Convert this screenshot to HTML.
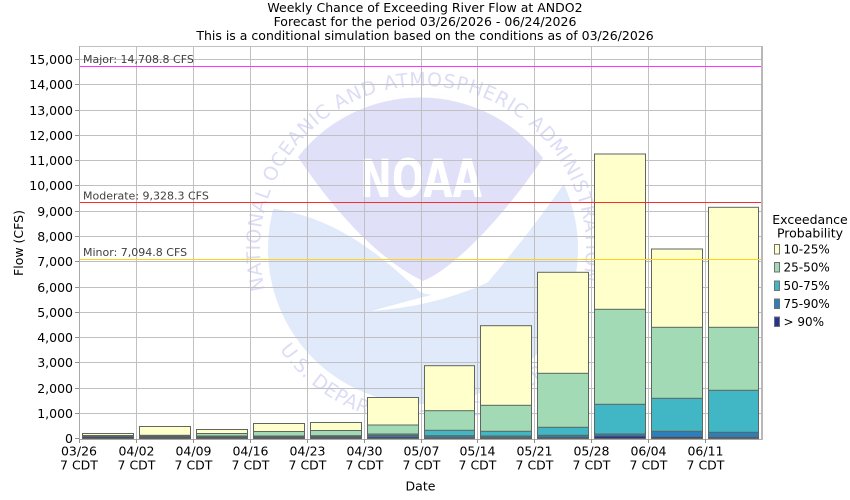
<!DOCTYPE html>
<html><head><meta charset="utf-8"><style>
html,body{margin:0;padding:0;background:#fff;}
svg{display:block;font-family:"DejaVu Sans","Liberation Sans",sans-serif;}
</style></head><body>
<svg width="850" height="500" viewBox="0 0 850 500" xmlns="http://www.w3.org/2000/svg">
<defs>
<clipPath id="plot"><rect x="79" y="47" width="683" height="392"/></clipPath>
<clipPath id="circ"><circle cx="423" cy="249" r="155"/></clipPath>
<path id="ringTop" d="M 265.2,289.8 A 163 163 0 1 1 581.8,285.7"/>
<path id="ringBot" d="M 279.7,349.4 A 175 175 0 0 0 566.3,349.4"/>
</defs>
<rect width="850" height="500" fill="#fff"/>
<!-- title -->
<g font-size="12.5" fill="#000" text-anchor="middle">
<text x="425" y="11.8">Weekly Chance of Exceeding River Flow at ANDO2</text>
<text x="425" y="25.8">Forecast for the period 03/26/2026 - 06/24/2026</text>
<text x="425" y="39.8">This is a conditional simulation based on the conditions as of 03/26/2026</text>
</g>
<!-- watermark -->
<g clip-path="url(#plot)">
<circle cx="423" cy="249" r="155" fill="#e1eafb"/>
<path clip-path="url(#circ)" d="M 250,207 C 320,208 372,246 420,292 C 440,300 470,292 488,282 C 515,250 545,212 570,175 L 600,140 L 600,60 L 250,60 Z" fill="#fff"/>
<path d="M 298,157 C 330,205 375,258 423,281 C 455,268 505,215 543,158 A 155 155 0 0 0 298,157 Z" fill="#e0e0f9"/>
<path d="M 488,282 C 450,300 410,308 372,311 C 410,300 440,293 470,285 Z" fill="#fff"/>
<text x="360" y="197" font-size="53" font-weight="bold" fill="#fff" textLength="122" lengthAdjust="spacingAndGlyphs">NOAA</text>
<text font-size="19" fill="#dcdcf6"><textPath href="#ringTop" textLength="585" lengthAdjust="spacing">NATIONAL OCEANIC AND ATMOSPHERIC ADMINISTRATION</textPath></text>
<text font-size="19" fill="#dcdcf6"><textPath href="#ringBot" textLength="330" lengthAdjust="spacing">U.S. DEPARTMENT OF COMMERCE</textPath></text>
</g>
<!-- grid -->
<g stroke="#c0c0c0" stroke-width="1" fill="none">
<line x1="79" y1="413.5" x2="762" y2="413.5"/>
<line x1="79" y1="388.5" x2="762" y2="388.5"/>
<line x1="79" y1="362.5" x2="762" y2="362.5"/>
<line x1="79" y1="337.5" x2="762" y2="337.5"/>
<line x1="79" y1="312.5" x2="762" y2="312.5"/>
<line x1="79" y1="287.5" x2="762" y2="287.5"/>
<line x1="79" y1="261.5" x2="762" y2="261.5"/>
<line x1="79" y1="236.5" x2="762" y2="236.5"/>
<line x1="79" y1="211.5" x2="762" y2="211.5"/>
<line x1="79" y1="185.5" x2="762" y2="185.5"/>
<line x1="79" y1="160.5" x2="762" y2="160.5"/>
<line x1="79" y1="135.5" x2="762" y2="135.5"/>
<line x1="79" y1="110.5" x2="762" y2="110.5"/>
<line x1="79" y1="84.5" x2="762" y2="84.5"/>
<line x1="79" y1="59.5" x2="762" y2="59.5"/>
<line x1="79" y1="46.5" x2="762" y2="46.5"/>
<line x1="136.5" y1="47" x2="136.5" y2="439"/>
<line x1="193.5" y1="47" x2="193.5" y2="439"/>
<line x1="250.5" y1="47" x2="250.5" y2="439"/>
<line x1="307.5" y1="47" x2="307.5" y2="439"/>
<line x1="364.5" y1="47" x2="364.5" y2="439"/>
<line x1="421.5" y1="47" x2="421.5" y2="439"/>
<line x1="477.5" y1="47" x2="477.5" y2="439"/>
<line x1="534.5" y1="47" x2="534.5" y2="439"/>
<line x1="591.5" y1="47" x2="591.5" y2="439"/>
<line x1="648.5" y1="47" x2="648.5" y2="439"/>
<line x1="705.5" y1="47" x2="705.5" y2="439"/>
</g>
<!-- bars -->
<g stroke="#5f655f" stroke-width="1">
<!-- each bar: yellow, green, teal, blue, navy -->
<rect x="82.5" y="433.5" width="51" height="5" fill="#ffffcc"/>
<rect x="82.5" y="435.5" width="51" height="3" fill="#a1dab4"/>
<rect x="82.5" y="436" width="51" height="2.5" fill="#41b6c4"/>
<rect x="82.5" y="436.3" width="51" height="2.2" fill="#2c7fb8"/>
<rect x="82.5" y="437" width="51" height="1.5" fill="#253494"/>

<rect x="139.5" y="426.5" width="51" height="12" fill="#ffffcc"/>
<rect x="139.5" y="435.3" width="51" height="3.2" fill="#a1dab4"/>
<rect x="139.5" y="436" width="51" height="2.5" fill="#41b6c4"/>
<rect x="139.5" y="436.5" width="51" height="2" fill="#2c7fb8"/>
<rect x="139.5" y="437.3" width="51" height="1.2" fill="#253494"/>

<rect x="196.5" y="429.5" width="51" height="9" fill="#ffffcc"/>
<rect x="196.5" y="433.5" width="51" height="5" fill="#a1dab4"/>
<rect x="196.5" y="436" width="51" height="2.5" fill="#41b6c4"/>
<rect x="196.5" y="436.5" width="51" height="2" fill="#2c7fb8"/>
<rect x="196.5" y="437.3" width="51" height="1.2" fill="#253494"/>

<rect x="253.5" y="423.5" width="51" height="15" fill="#ffffcc"/>
<rect x="253.5" y="431.5" width="51" height="7" fill="#a1dab4"/>
<rect x="253.5" y="436" width="51" height="2.5" fill="#41b6c4"/>
<rect x="253.5" y="436.5" width="51" height="2" fill="#2c7fb8"/>
<rect x="253.5" y="437.3" width="51" height="1.2" fill="#253494"/>

<rect x="310.5" y="422.5" width="51" height="16" fill="#ffffcc"/>
<rect x="310.5" y="430.5" width="51" height="8" fill="#a1dab4"/>
<rect x="310.5" y="435.7" width="51" height="2.8" fill="#41b6c4"/>
<rect x="310.5" y="436.3" width="51" height="2.2" fill="#2c7fb8"/>
<rect x="310.5" y="437.3" width="51" height="1.2" fill="#253494"/>

<rect x="367.5" y="397.5" width="51" height="41" fill="#ffffcc"/>
<rect x="367.5" y="425" width="51" height="13.5" fill="#a1dab4"/>
<rect x="367.5" y="434" width="51" height="4.5" fill="#41b6c4"/>
<rect x="367.5" y="435.3" width="51" height="3.2" fill="#2c7fb8"/>
<rect x="367.5" y="437" width="51" height="1.5" fill="#253494"/>

<rect x="424.5" y="365.7" width="50" height="72.8" fill="#ffffcc"/>
<rect x="424.5" y="410.7" width="50" height="27.8" fill="#a1dab4"/>
<rect x="424.5" y="430.3" width="50" height="8.2" fill="#41b6c4"/>
<rect x="424.5" y="435.7" width="50" height="2.8" fill="#2c7fb8"/>
<rect x="424.5" y="437.5" width="50" height="1" fill="#253494"/>

<rect x="480.5" y="325.7" width="51" height="112.8" fill="#ffffcc"/>
<rect x="480.5" y="405.3" width="51" height="33.2" fill="#a1dab4"/>
<rect x="480.5" y="431.3" width="51" height="7.2" fill="#41b6c4"/>
<rect x="480.5" y="436" width="51" height="2.5" fill="#2c7fb8"/>
<rect x="480.5" y="437.5" width="51" height="1" fill="#253494"/>

<rect x="537.5" y="272.3" width="51" height="166.2" fill="#ffffcc"/>
<rect x="537.5" y="373.3" width="51" height="65.2" fill="#a1dab4"/>
<rect x="537.5" y="427.3" width="51" height="11.2" fill="#41b6c4"/>
<rect x="537.5" y="435.3" width="51" height="3.2" fill="#2c7fb8"/>
<rect x="537.5" y="437.3" width="51" height="1.2" fill="#253494"/>

<rect x="594.5" y="154" width="51" height="284.5" fill="#ffffcc"/>
<rect x="594.5" y="309.3" width="51" height="129.2" fill="#a1dab4"/>
<rect x="594.5" y="404.3" width="51" height="34.2" fill="#41b6c4"/>
<rect x="594.5" y="434" width="51" height="4.5" fill="#2c7fb8"/>
<rect x="594.5" y="436" width="51" height="2.5" fill="#253494"/>

<rect x="651.5" y="249" width="51" height="189.5" fill="#ffffcc"/>
<rect x="651.5" y="327.3" width="51" height="111.2" fill="#a1dab4"/>
<rect x="651.5" y="398.3" width="51" height="40.2" fill="#41b6c4"/>
<rect x="651.5" y="431.3" width="51" height="7.2" fill="#2c7fb8"/>
<rect x="651.5" y="437" width="51" height="1.5" fill="#253494"/>

<rect x="708.5" y="207.3" width="50" height="231.2" fill="#ffffcc"/>
<rect x="708.5" y="327.3" width="50" height="111.2" fill="#a1dab4"/>
<rect x="708.5" y="390.3" width="50" height="48.2" fill="#41b6c4"/>
<rect x="708.5" y="432.3" width="50" height="6.2" fill="#2c7fb8"/>
<rect x="708.5" y="437.3" width="50" height="1.2" fill="#253494"/>
</g>
<!-- thresholds -->
<line x1="79" y1="66.5" x2="762" y2="66.5" stroke="#ff33ff" stroke-width="1"/>
<line x1="79" y1="202.5" x2="762" y2="202.5" stroke="#ff2a2a" stroke-width="1"/>
<line x1="79" y1="259.5" x2="762" y2="259.5" stroke="#ffd21f" stroke-width="1"/>
<g font-size="11" fill="#404040">
<text x="83" y="63">Major: 14,708.8 CFS</text>
<text x="83" y="199.3">Moderate: 9,328.3 CFS</text>
<text x="83" y="256">Minor: 7,094.8 CFS</text>
</g>
<!-- axes -->
<g stroke="#a8a8a8" stroke-width="1">
<line x1="79.5" y1="46" x2="79.5" y2="440"/>
<line x1="79" y1="439.5" x2="763" y2="439.5"/>
<line x1="762" y1="46" x2="762" y2="440" stroke-width="2" stroke="#b8b8b8"/>
</g>
<g stroke="#909090" stroke-width="1">
<line x1="75" y1="438.5" x2="79" y2="438.5"/>
<line x1="75" y1="413.5" x2="79" y2="413.5"/>
<line x1="75" y1="388.5" x2="79" y2="388.5"/>
<line x1="75" y1="362.5" x2="79" y2="362.5"/>
<line x1="75" y1="337.5" x2="79" y2="337.5"/>
<line x1="75" y1="312.5" x2="79" y2="312.5"/>
<line x1="75" y1="287.5" x2="79" y2="287.5"/>
<line x1="75" y1="261.5" x2="79" y2="261.5"/>
<line x1="75" y1="236.5" x2="79" y2="236.5"/>
<line x1="75" y1="211.5" x2="79" y2="211.5"/>
<line x1="75" y1="185.5" x2="79" y2="185.5"/>
<line x1="75" y1="160.5" x2="79" y2="160.5"/>
<line x1="75" y1="135.5" x2="79" y2="135.5"/>
<line x1="75" y1="110.5" x2="79" y2="110.5"/>
<line x1="75" y1="84.5" x2="79" y2="84.5"/>
<line x1="75" y1="59.5" x2="79" y2="59.5"/>
<line x1="79.5" y1="439" x2="79.5" y2="443"/>
<line x1="136.5" y1="439" x2="136.5" y2="443"/>
<line x1="193.5" y1="439" x2="193.5" y2="443"/>
<line x1="250.5" y1="439" x2="250.5" y2="443"/>
<line x1="307.5" y1="439" x2="307.5" y2="443"/>
<line x1="364.5" y1="439" x2="364.5" y2="443"/>
<line x1="421.5" y1="439" x2="421.5" y2="443"/>
<line x1="477.5" y1="439" x2="477.5" y2="443"/>
<line x1="534.5" y1="439" x2="534.5" y2="443"/>
<line x1="591.5" y1="439" x2="591.5" y2="443"/>
<line x1="648.5" y1="439" x2="648.5" y2="443"/>
<line x1="705.5" y1="439" x2="705.5" y2="443"/>
</g>
<!-- y tick labels -->
<g font-size="12.5" fill="#000" text-anchor="end">
<text x="73" y="443">0</text>
<text x="73" y="418">1,000</text>
<text x="73" y="393">2,000</text>
<text x="73" y="367">3,000</text>
<text x="73" y="342">4,000</text>
<text x="73" y="317">5,000</text>
<text x="73" y="292">6,000</text>
<text x="73" y="266">7,000</text>
<text x="73" y="241">8,000</text>
<text x="73" y="216">9,000</text>
<text x="73" y="190">10,000</text>
<text x="73" y="165">11,000</text>
<text x="73" y="140">12,000</text>
<text x="73" y="115">13,000</text>
<text x="73" y="89">14,000</text>
<text x="73" y="64">15,000</text>
</g>
<!-- x tick labels -->
<g font-size="12.5" fill="#000" text-anchor="middle">
<text x="79" y="455.3">03/26</text><text x="79" y="469.3">7 CDT</text>
<text x="136.5" y="455.3">04/02</text><text x="136.5" y="469.3">7 CDT</text>
<text x="193.5" y="455.3">04/09</text><text x="193.5" y="469.3">7 CDT</text>
<text x="250.5" y="455.3">04/16</text><text x="250.5" y="469.3">7 CDT</text>
<text x="307.5" y="455.3">04/23</text><text x="307.5" y="469.3">7 CDT</text>
<text x="364.5" y="455.3">04/30</text><text x="364.5" y="469.3">7 CDT</text>
<text x="421.5" y="455.3">05/07</text><text x="421.5" y="469.3">7 CDT</text>
<text x="477.5" y="455.3">05/14</text><text x="477.5" y="469.3">7 CDT</text>
<text x="534.5" y="455.3">05/21</text><text x="534.5" y="469.3">7 CDT</text>
<text x="591.5" y="455.3">05/28</text><text x="591.5" y="469.3">7 CDT</text>
<text x="648.5" y="455.3">06/04</text><text x="648.5" y="469.3">7 CDT</text>
<text x="705.5" y="455.3">06/11</text><text x="705.5" y="469.3">7 CDT</text>
<text x="420.5" y="490.5">Date</text>
<text transform="translate(23,243) rotate(-90)" x="0" y="0">Flow (CFS)</text>
</g>
<!-- legend -->
<g font-size="12.5" fill="#000">
<text x="810" y="224" text-anchor="middle">Exceedance</text>
<text x="810" y="237.5" text-anchor="middle">Probability</text>
</g>
<g stroke="#707070" stroke-width="1">
<rect x="774.5" y="244.5" width="5" height="9.5" fill="#ffffcc"/>
<rect x="774.5" y="262.5" width="5" height="9.5" fill="#a1dab4"/>
<rect x="774.5" y="281" width="5" height="9.5" fill="#41b6c4"/>
<rect x="774.5" y="299" width="5" height="9.5" fill="#2c7fb8"/>
<rect x="774.5" y="317" width="5" height="9.5" fill="#253494"/>
</g>
<g font-size="12" fill="#000">
<text x="783.5" y="253.7">10-25%</text>
<text x="783.5" y="271.7">25-50%</text>
<text x="783.5" y="290">50-75%</text>
<text x="783.5" y="308">75-90%</text>
<text x="783.5" y="326">&gt; 90%</text>
</g>
</svg>
</body></html>
